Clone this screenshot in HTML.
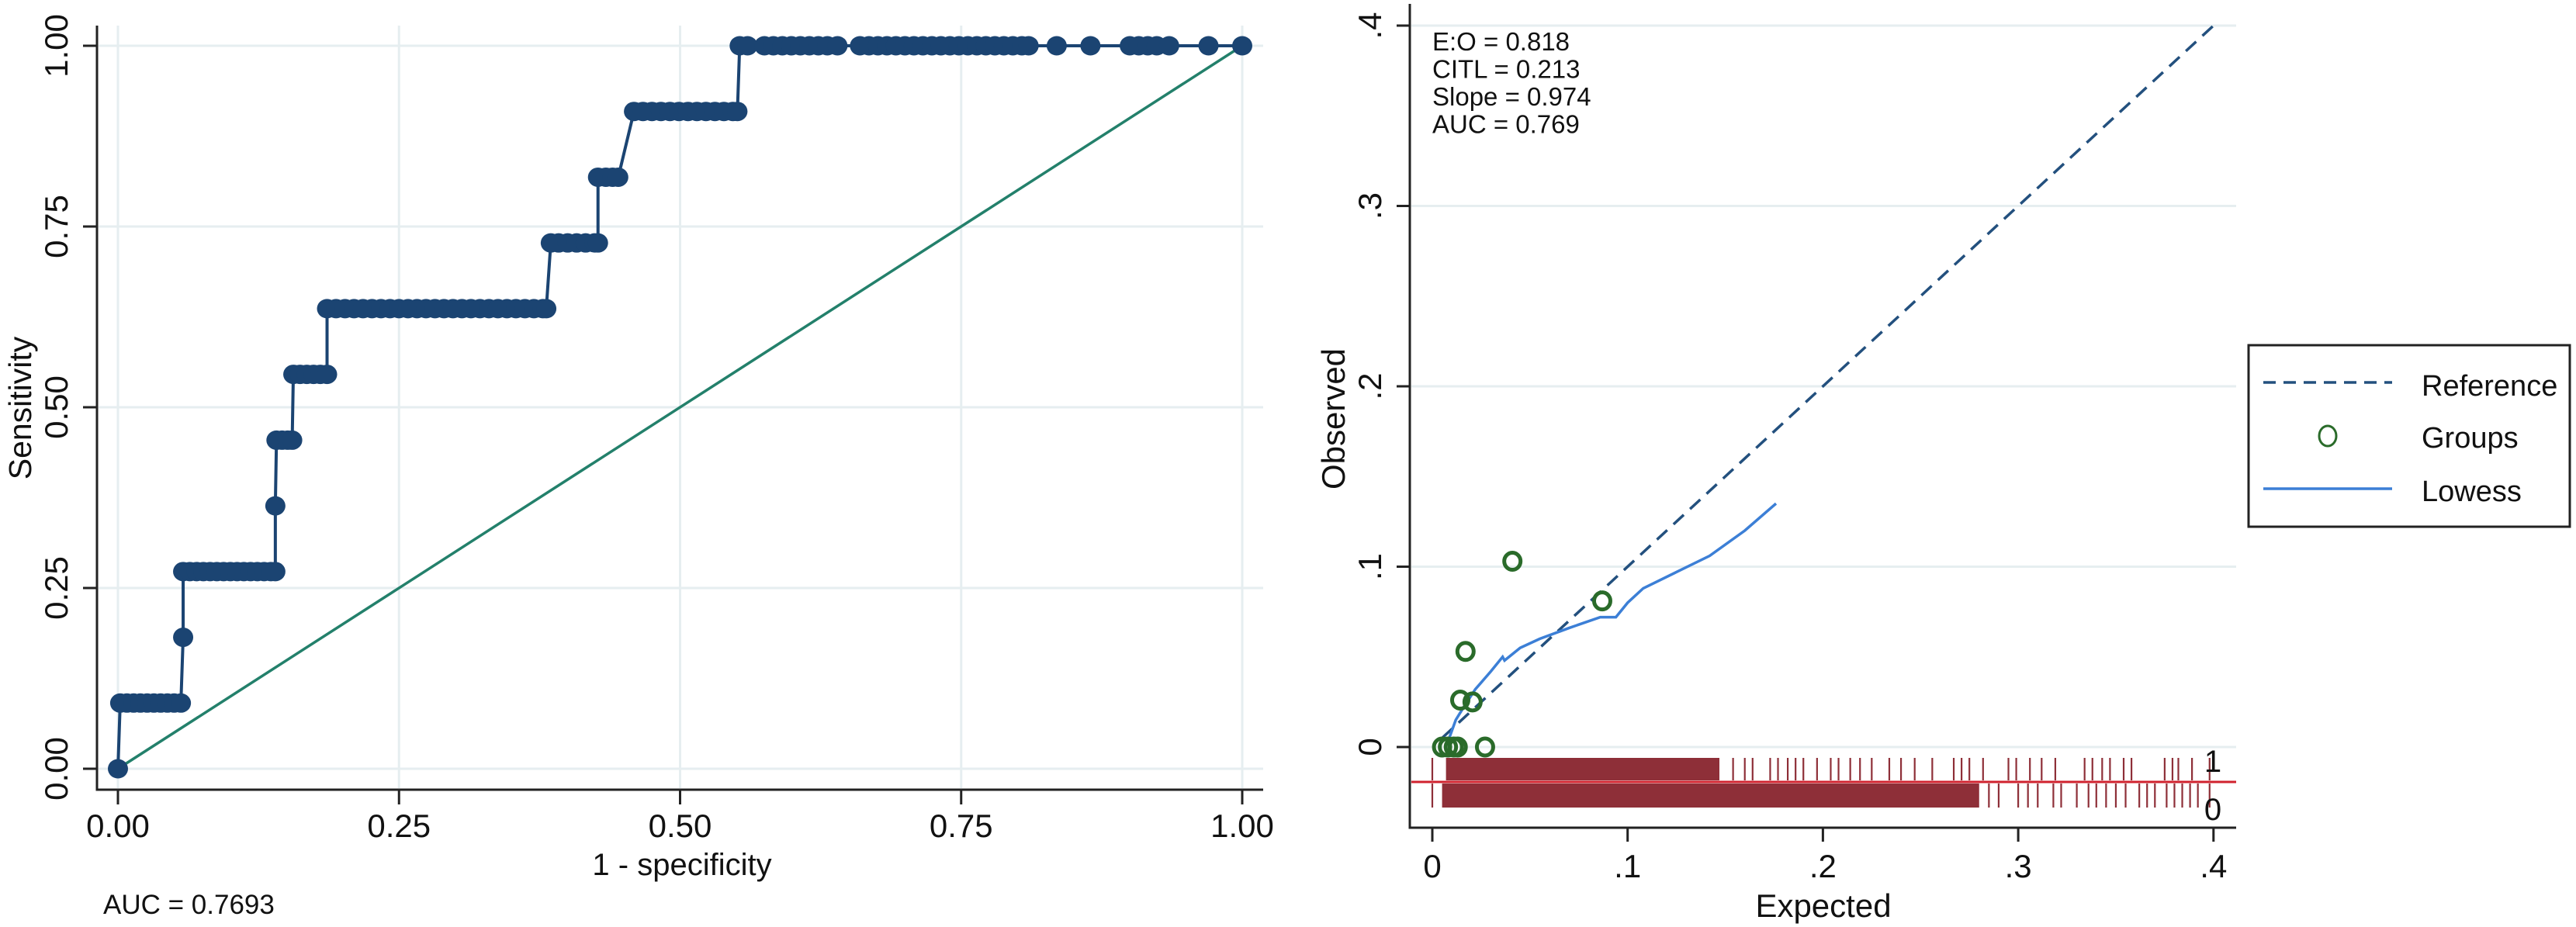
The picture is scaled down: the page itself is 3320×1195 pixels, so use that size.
<!DOCTYPE html>
<html><head><meta charset="utf-8"><style>
html,body{margin:0;padding:0;background:#fff;}
svg{display:block;font-family:"Liberation Sans",Arial,sans-serif;}
</style></head><body>
<svg id="fig" width="3320" height="1195" viewBox="0 0 3320 1195" xmlns="http://www.w3.org/2000/svg">
<g id="roc"></g>
<g id="cal"></g>
</svg>
<script>
// ---- ROC data ----
const rocTicks = [0, 0.25, 0.5, 0.75, 1];
const rocTickLabels = ["0.00", "0.25", "0.50", "0.75", "1.00"];
const rocLevels = [0, 0.0909, 0.1818, 0.2727, 0.3636, 0.4545, 0.5455, 0.6364, 0.7273, 0.8182, 0.9091, 1.0];
const rocFprByLevel = [
  [0.0],
  [0.002,0.008,0.014,0.02,0.026,0.032,0.038,0.044,0.05,0.056],
  [0.058],
  [0.058,0.064,0.07,0.076,0.082,0.088,0.094,0.1,0.106,0.112,0.118,0.124,0.13,0.136,0.14],
  [0.14],
  [0.141,0.146,0.151,0.155],
  [0.156,0.162,0.168,0.174,0.18,0.186],
  [0.186,0.194,0.202,0.21,0.218,0.226,0.234,0.242,0.25,0.258,0.266,0.274,0.282,0.29,0.298,0.306,0.314,0.322,0.33,0.338,0.346,0.354,0.362,0.37,0.378,0.381],
  [0.385,0.392,0.4,0.408,0.416,0.424,0.427],
  [0.427,0.434,0.44,0.445],
  [0.459,0.467,0.475,0.483,0.491,0.499,0.507,0.515,0.523,0.531,0.539,0.547,0.551],
  [0.553,0.56,0.575,0.583,0.591,0.599,0.607,0.615,0.623,0.631,0.64,0.66,0.668,0.676,0.684,0.692,0.7,0.708,0.716,0.724,0.732,0.74,0.748,0.756,0.764,0.772,0.78,0.788,0.796,0.804,0.81,0.835,0.865,0.9,0.908,0.916,0.924,0.935,0.97,1.0]
];
// ---- Calibration data ----
const calTicks = [0, 0.1, 0.2, 0.3, 0.4];
const calTickLabels = ["0", ".1", ".2", ".3", ".4"];
const refLine = [0.005, 0.4];
const groupsX = [0.005,0.008,0.011,0.013,0.027,0.0143,0.0206,0.017,0.041,0.087];
const groupsY = [0,0,0,0,0,0.026,0.025,0.053,0.103,0.081];
const lowessX = [0.008,0.012,0.016,0.022,0.03,0.036,0.037,0.045,0.055,0.07,0.086,0.094,0.1,0.108,0.125,0.142,0.16,0.176];
const lowessY = [0.003,0.015,0.022,0.032,0.042,0.05,0.048,0.055,0.06,0.066,0.072,0.072,0.08,0.088,0.097,0.106,0.12,0.135];
const rug1Dense = [0.007, 0.147];
const rug1Sparse = [0.0,0.154,0.16,0.164,0.173,0.177,0.182,0.186,0.19,0.197,0.204,0.208,0.214,0.219,0.225,0.234,0.24,0.247,0.256,0.267,0.271,0.275,0.282,0.295,0.299,0.306,0.312,0.319,0.334,0.338,0.343,0.347,0.354,0.358,0.375,0.379,0.382,0.389,0.398];
const rug0Dense = [0.005, 0.28];
const rug0Sparse = [0.0,0.285,0.29,0.3,0.305,0.31,0.318,0.322,0.33,0.336,0.34,0.345,0.35,0.355,0.362,0.366,0.37,0.376,0.38,0.384,0.388,0.392,0.398];
const statLines = ["E:O = 0.818", "CITL = 0.213", "Slope = 0.974", "AUC = 0.769"];

const NS = "http://www.w3.org/2000/svg";
function mk(parent, tag, attrs, text){
  const e = document.createElementNS(NS, tag);
  for (const k in attrs) e.setAttribute(k, attrs[k]);
  if (text !== undefined) e.textContent = text;
  parent.appendChild(e);
  return e;
}
const GRID = "#e6eef0", AX = "#222";

// ===== ROC =====
const roc = document.getElementById('roc');
const rx = v => 152 + v * 1449;
const ry = v => 991 - v * 932;
rocTicks.forEach((t, i) => {
  let g = mk(roc, 'line', {x1: rx(t), x2: rx(t), y1: 33, y2: 1016, stroke: GRID, 'stroke-width': 3});
  
  
  g = mk(roc, 'line', {x1: 127, x2: 1628, y1: ry(t), y2: ry(t), stroke: GRID, 'stroke-width': 3});
  
  
  let tk = mk(roc, 'line', {x1: rx(t), x2: rx(t), y1: 1018, y2: 1037, stroke: AX, 'stroke-width': 3});
  
  
  let lb = mk(roc, 'text', {x: rx(t), y: 1079, 'font-size': 42, 'text-anchor': 'middle', fill: '#111'}, rocTickLabels[i]);
  
  
  tk = mk(roc, 'line', {x1: 107, x2: 125, y1: ry(t), y2: ry(t), stroke: AX, 'stroke-width': 3});
  
  
  lb = mk(roc, 'text', {x: 0, y: 0, 'font-size': 42, 'text-anchor': 'middle', fill: '#111', transform: `translate(87,${ry(t)}) rotate(-90)`}, rocTickLabels[i]);
  
  
});
let ax = mk(roc, 'line', {x1: 125, x2: 125, y1: 33, y2: 1019.5, stroke: AX, 'stroke-width': 3});


ax = mk(roc, 'line', {x1: 123.5, x2: 1628, y1: 1018, y2: 1018, stroke: AX, 'stroke-width': 3});


let diag = mk(roc, 'line', {x1: rx(0), y1: ry(0), x2: rx(1), y2: ry(1), stroke: '#23806b', 'stroke-width': 3.5});


let pts = [];
rocFprByLevel.forEach((arr, li) => arr.forEach(f => pts.push([f, rocLevels[li]])));
let rocPath = mk(roc, 'polyline', {points: pts.map(p => rx(p[0]) + ',' + ry(p[1])).join(' '), fill: 'none', stroke: '#1b4472', 'stroke-width': 4});


pts.forEach(p => {
  const c = mk(roc, 'ellipse', {cx: rx(p[0]), cy: ry(p[1]), rx: 13, ry: 12.5, fill: '#1b4472'});
  
  
});
let t1 = mk(roc, 'text', {x: 0, y: 0, 'font-size': 41, 'text-anchor': 'middle', fill: '#111', transform: 'translate(40,526) rotate(-90)'}, 'Sensitivity');


let t2 = mk(roc, 'text', {x: 879, y: 1128, 'font-size': 40, 'text-anchor': 'middle', fill: '#111'}, '1 - specificity');


let t3 = mk(roc, 'text', {x: 133, y: 1178, 'font-size': 35, fill: '#111'}, 'AUC = 0.7693');



// ===== Calibration =====
const cal = document.getElementById('cal');
const cx = v => 1846 + v * 2517;
const cy = v => 963 - v * 2325;
calTicks.forEach((t, i) => {
  let g = mk(cal, 'line', {x1: 1819, x2: 2882, y1: cy(t), y2: cy(t), stroke: GRID, 'stroke-width': 3});
  
  
  let tk = mk(cal, 'line', {x1: 1800, x2: 1817, y1: cy(t), y2: cy(t), stroke: AX, 'stroke-width': 3});
  
  
  let lb = mk(cal, 'text', {x: 0, y: 0, 'font-size': 42, 'text-anchor': 'middle', fill: '#111', transform: `translate(1780,${cy(t)}) rotate(-90)`}, calTickLabels[i]);
  
  
  tk = mk(cal, 'line', {x1: cx(t), x2: cx(t), y1: 1067, y2: 1085, stroke: AX, 'stroke-width': 3});
  
  
  lb = mk(cal, 'text', {x: cx(t), y: 1131, 'font-size': 42, 'text-anchor': 'middle', fill: '#111'}, calTickLabels[i]);
  
  
});
ax = mk(cal, 'line', {x1: 1817, x2: 1817, y1: 5, y2: 1068.5, stroke: AX, 'stroke-width': 3});


ax = mk(cal, 'line', {x1: 1815.5, x2: 2882, y1: 1067, y2: 1067, stroke: AX, 'stroke-width': 3});



// rug
const RUG = '#8e2f38';
const r1top = 977, r1bot = 1006, r0top = 1010, r0bot = 1041;
let d1 = mk(cal, 'rect', {x: cx(rug1Dense[0]), y: r1top, width: cx(rug1Dense[1]) - cx(rug1Dense[0]), height: r1bot - r1top, fill: RUG});


rug1Sparse.forEach(v => {
  const l = mk(cal, 'line', {x1: cx(v), x2: cx(v), y1: r1top, y2: r1bot, stroke: RUG, 'stroke-width': 2.2});
  
  
});
let d0 = mk(cal, 'rect', {x: cx(rug0Dense[0]), y: r0top, width: cx(rug0Dense[1]) - cx(rug0Dense[0]), height: r0bot - r0top, fill: RUG});


rug0Sparse.forEach(v => {
  const l = mk(cal, 'line', {x1: cx(v), x2: cx(v), y1: r0top, y2: r0bot, stroke: RUG, 'stroke-width': 2.2});
  
  
});
let rl = mk(cal, 'line', {x1: 1819, x2: 2882, y1: 1008, y2: 1008, stroke: '#d0222e', 'stroke-width': 3});


let l1 = mk(cal, 'text', {x: 2852, y: 995, 'font-size': 40, 'text-anchor': 'middle', fill: '#111'}, '1');


let l0 = mk(cal, 'text', {x: 2852, y: 1057, 'font-size': 40, 'text-anchor': 'middle', fill: '#111'}, '0');



// reference
let ref = mk(cal, 'line', {x1: cx(refLine[0]), y1: cy(refLine[0]), x2: cx(refLine[1]), y2: cy(refLine[1]), stroke: '#23507e', 'stroke-width': 3.5, 'stroke-dasharray': '18 11'});


// lowess
let low = mk(cal, 'polyline', {points: lowessX.map((x, i) => cx(x) + ',' + cy(lowessY[i])).join(' '), fill: 'none', stroke: '#3c7fd6', 'stroke-width': 3.5});


// groups
groupsX.forEach((x, i) => {
  const c = mk(cal, 'ellipse', {cx: cx(x), cy: cy(groupsY[i]), rx: 10.5, ry: 11, fill: 'none', stroke: '#2a6b2a', 'stroke-width': 5});
  
  
});
// stats text
statLines.forEach((s, i) => {
  const t = mk(cal, 'text', {x: 1846, y: 65 + i * 35.5, 'font-size': 33, fill: '#111'}, s);
  
  
});
let ot = mk(cal, 'text', {x: 0, y: 0, 'font-size': 42, 'text-anchor': 'middle', fill: '#111', transform: 'translate(1733,540) rotate(-90)'}, 'Observed');


let et = mk(cal, 'text', {x: 2350, y: 1182, 'font-size': 42, 'text-anchor': 'middle', fill: '#111'}, 'Expected');



// legend
const lg = mk(cal, 'g', {});


let box = mk(lg, 'rect', {x: 2898, y: 445, width: 414, height: 234, fill: '#fff', stroke: '#222', 'stroke-width': 3});


let le = mk(lg, 'line', {x1: 2917, x2: 3083, y1: 493, y2: 493, stroke: '#23507e', 'stroke-width': 3.5, 'stroke-dasharray': '16 10'});


le = mk(lg, 'text', {x: 3121, y: 510, 'font-size': 38, fill: '#111'}, 'Reference');


le = mk(lg, 'ellipse', {cx: 3000, cy: 562, rx: 11, ry: 13, fill: 'none', stroke: '#2a6b2a', 'stroke-width': 3});


le = mk(lg, 'text', {x: 3121, y: 577, 'font-size': 38, fill: '#111'}, 'Groups');


le = mk(lg, 'line', {x1: 2917, x2: 3083, y1: 630, y2: 630, stroke: '#3c7fd6', 'stroke-width': 3.5});


le = mk(lg, 'text', {x: 3121, y: 646, 'font-size': 38, fill: '#111'}, 'Lowess');


</script>
</body></html>
